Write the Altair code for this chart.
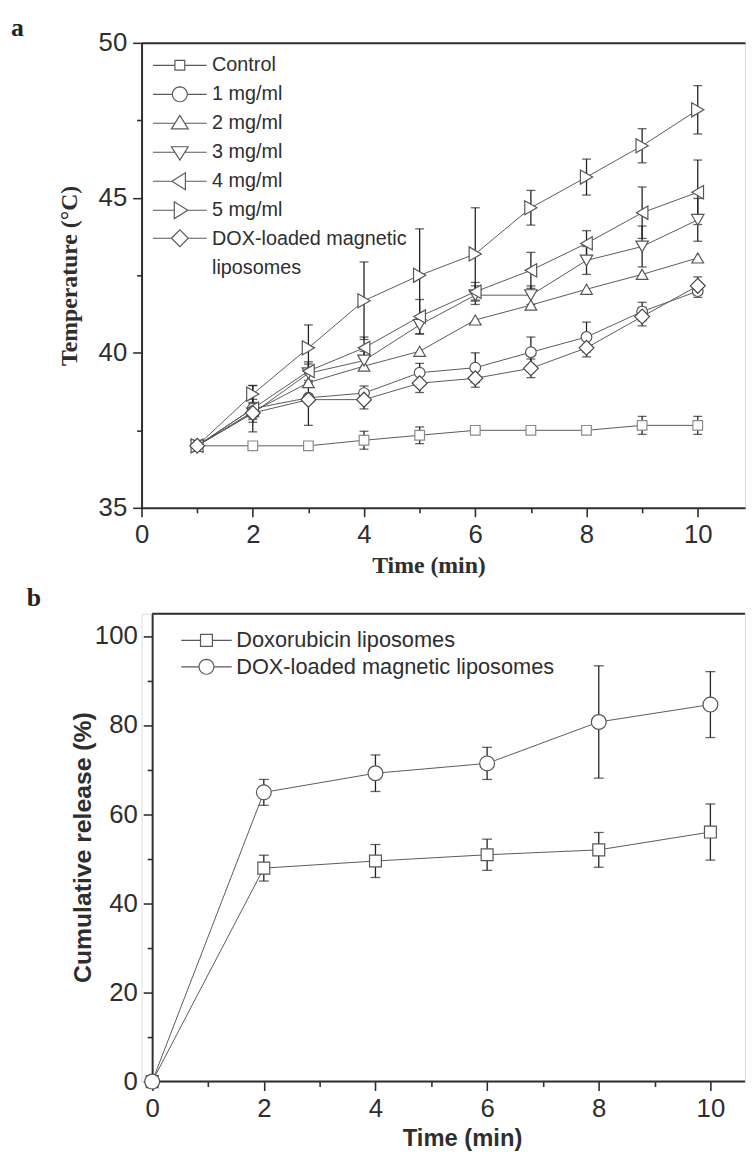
import math
import altair as alt
import pandas as pd

# ---------------- Panel a: temperature vs time ----------------
time_a = [1, 2, 3, 4, 5, 6, 7, 8, 9, 10]
series_a = ["Control", "1 mg/ml", "2 mg/ml", "3 mg/ml", "4 mg/ml", "5 mg/ml",
            "DOX-loaded magnetic liposomes"]
temp_control = [37.0, 37.0, 37.0, 37.18, 37.34, 37.5, 37.5, 37.5, 37.66, 37.66]
err_control = [0, 0, 0, 0.29, 0.27, 0, 0, 0, 0.29, 0.29]
temp_1mg = [37.0, 38.2, 38.55, 38.7, 39.36, 39.52, 40.02, 40.51, 41.33, 41.99]
err_1mg = [0, 0.75, 0, 0.23, 0.3, 0.48, 0.49, 0.48, 0.3, 0.2]
temp_2mg = [37.0, 38.1, 39.04, 39.57, 40.05, 41.06, 41.54, 42.05, 42.53, 43.06]
err_2mg = [0, 0, 0, 0, 0, 0, 0, 0, 0, 0]
temp_3mg = [37.0, 38.05, 39.34, 39.75, 40.9, 41.86, 41.86, 42.98, 43.43, 44.29]
err_3mg = [0, 0.2, 0.3, 0.3, 0.3, 0.3, 0.3, 0.45, 0.66, 0.69]
temp_4mg = [37.0, 38.2, 39.41, 40.16, 41.17, 41.97, 42.66, 43.53, 44.52, 45.18]
err_4mg = [0, 0.3, 0.3, 0.35, 0.55, 0.3, 0.58, 0.41, 0.83, 1.04]
temp_5mg = [37.0, 38.67, 40.16, 41.68, 42.5, 43.19, 44.68, 45.67, 46.68, 47.84]
err_5mg = [0, 0.27, 0.74, 1.25, 1.5, 1.49, 0.56, 0.58, 0.55, 0.78]
temp_dox = [37.0, 38.06, 38.49, 38.49, 39.02, 39.18, 39.5, 40.16, 41.17, 42.16]
err_dox = [0, 0.3, 0.83, 0.3, 0.3, 0.29, 0.3, 0.29, 0.3, 0.29]

# the last legend label wraps onto two lines in the figure
legend_a_lines = ["DOX-loaded magnetic", "\u00a0liposomes"]

ticks_a_x = [0, 2, 4, 6, 8, 10]
minor_a_x = [1, 3, 5, 7, 9]
ticks_a_y = [35, 40, 45, 50]
minor_a_y = [37.5, 42.5, 47.5]

# ---------------- Panel b: cumulative release ----------------
time_b = [0, 2, 4, 6, 8, 10]
series_b = ["Doxorubicin liposomes", "DOX-loaded magnetic liposomes"]
rel_lipo = [0, 47.9, 49.5, 50.9, 52.0, 56.0]
err_lipo = [0, 2.9, 3.7, 3.5, 3.9, 6.3]
rel_mag = [0, 64.9, 69.2, 71.4, 80.7, 84.6]
err_mag = [0, 2.9, 4.1, 3.6, 12.6, 7.4]

ticks_b_x = [0, 2, 4, 6, 8, 10]
minor_b_x = [1, 3, 5, 7, 9]
ticks_b_y = [0, 20, 40, 60, 80, 100]
minor_b_y = [10, 30, 50, 70, 90]


def long_df(times, names, values, errors):
    rows = []
    for name, vals, errs in zip(names, values, errors):
        for t, v, e in zip(times, vals, errs):
            rows.append({"series": name, "time": t, "val": v, "err": e,
                         "lo": v - e, "hi": v + e})
    return pd.DataFrame(rows)


df_a = long_df(time_a, series_a,
               [temp_control, temp_1mg, temp_2mg, temp_3mg, temp_4mg, temp_5mg, temp_dox],
               [err_control, err_1mg, err_2mg, err_3mg, err_4mg, err_5mg, err_dox])
df_b = long_df(time_b, series_b, [rel_lipo, rel_mag], [err_lipo, err_mag])

# ---------------- styles ----------------
SANS = "Liberation Sans"
SERIF = "Liberation Serif"
DARK = "#2e2e2e"
LINE = "#5a5a5a"
ERR = "#222222"

shapes_a = ["square", "circle", "triangle-up", "triangle-down", "triangle-left",
            "triangle-right", "diamond"]
sizes_a = [95, 225, 290, 290, 290, 290, 310]
strokes_a = ["#8a8a8a", "#555555", "#555555", "#555555", "#555555", "#555555", "#444444"]
shapes_b = ["square", "circle"]
sizes_b = [144, 225]


def f3(v):
    return f"{v:.3f}"


def poly(pts):
    return "M" + "L".join(f"{f3(x)},{f3(y)}" for x, y in pts) + "Z"


def circle_path(r, cy=0.0, n=28):
    return poly([(r * math.cos(2 * math.pi * k / n), cy + r * math.sin(2 * math.pi * k / n))
                 for k in range(n)])


def stub(a, b, cy, L):
    return f"M{f3(-L)},{f3(cy)}L{f3(-a)},{f3(cy)}M{f3(b)},{f3(cy)}L{f3(L)},{f3(cy)}"


def legend_symbol(kind, cy, L):
    """Legend glyph: line stub with the marker shape in its middle (units of sqrt(size)/2)."""
    if kind == "square":
        h = 0.62
        return stub(h, h, cy, L) + poly([(-h, cy - h), (h, cy - h), (h, cy + h), (-h, cy + h)])
    if kind == "square-b":
        h = 0.75
        return stub(h, h, cy, L) + poly([(-h, cy - h), (h, cy - h), (h, cy + h), (-h, cy + h)])
    if kind == "circle":
        return stub(0.94, 0.94, cy, L) + circle_path(0.94, cy)
    if kind == "triangle-up":
        return stub(0.62, 0.62, cy, L) + poly([(-1.06, cy + 0.7), (0, cy - 1.0), (1.06, cy + 0.7)])
    if kind == "triangle-down":
        return stub(0.62, 0.62, cy, L) + poly([(-1.06, cy - 0.7), (1.06, cy - 0.7), (0, cy + 1.0)])
    if kind == "triangle-left":
        return stub(1.0, 0.7, cy, L) + poly([(-1.0, cy), (0.7, cy - 1.06), (0.7, cy + 1.06)])
    if kind == "triangle-right":
        return stub(0.7, 1.0, cy, L) + poly([(1.0, cy), (-0.7, cy - 1.06), (-0.7, cy + 1.06)])
    # diamond
    return stub(1.06, 1.06, cy, L) + poly([(-1.06, cy), (0, cy - 1.06), (1.06, cy), (0, cy + 1.06)])


AX = dict(domainColor=DARK, domainWidth=2, tickColor=DARK, tickWidth=1.6,
          labelColor=DARK, labelFont=SANS, labelFontSize=26, grid=False,
          labelFlush=False, labelOverlap=False)
MINOR = dict(labels=False, domain=False, tickSize=5, tickColor=DARK, tickWidth=1.6,
             grid=False, title=None)

# ================= Panel a =================
XA = alt.Scale(domain=[0, 10.85], nice=False, zero=False)
YA = alt.Scale(domain=[35, 50], nice=False, zero=False)
base_a = alt.Chart(df_a)

x_axis_a = alt.Axis(
    values=ticks_a_x, format="d", orient="bottom", tickSize=9, labelPadding=5,
    title="Time (min)", titleFont=SERIF, titleFontSize=24, titleFontWeight="bold",
    titleColor=DARK, titleX=290, titleY=46, titleBaseline="top", titleAlign="center", **AX)
y_axis_a = alt.Axis(
    values=ticks_a_y, format="d", orient="left", tickSize=9, labelPadding=6,
    title="Temperature (°C)", titleFont=SERIF, titleFontSize=24, titleFontWeight="bold",
    titleColor=DARK, titleAngle=270, titleX=-73, titleY=235, titleBaseline="middle",
    titleAlign="center", **AX)

ROW_A = 29.3
line_layers_a = []
for i, name in enumerate(series_a):
    last = i == len(series_a) - 1
    leg_kw = dict(
        title=None, orient="none", legendX=28.7,
        legendY=(18.9 if last else 12.7) + i * ROW_A, padding=0,
        symbolType=legend_symbol(shapes_a[i], -0.9 if last else 0.0, 3.4),
        symbolSize=256, symbolStrokeWidth=1.2, symbolFillColor="white",
        labelFont=SANS, labelFontSize=20, labelColor=DARK,
        labelBaseline="alphabetic" if last else "middle",
        labelOffset=22.6, labelLimit=500,
    )
    if last:
        leg_kw["labelExpr"] = f"['{legend_a_lines[0]}', '{legend_a_lines[1]}']"
    line_layers_a.append(
        base_a.transform_filter(alt.datum.series == name).mark_line(strokeWidth=1).encode(
            x=alt.X("time:Q", scale=XA, axis=x_axis_a if i == 0 else None),
            y=alt.Y("val:Q", scale=YA, axis=y_axis_a if i == 0 else None),
            color=alt.Color("series:N", scale=alt.Scale(domain=[name], range=[LINE]),
                            legend=alt.Legend(**leg_kw)),
        )
    )

points_a = base_a.mark_point(fill="white", fillOpacity=1, opacity=1, strokeWidth=1.2).encode(
    x=alt.X("time:Q", scale=XA, axis=alt.Axis(values=minor_a_x, orient="bottom", **MINOR)),
    y=alt.Y("val:Q", scale=YA, axis=alt.Axis(values=minor_a_y, orient="left", **MINOR)),
    shape=alt.Shape("series:N", scale=alt.Scale(domain=series_a, range=shapes_a), legend=None),
    size=alt.Size("series:N", scale=alt.Scale(domain=series_a, range=sizes_a), legend=None),
    stroke=alt.Stroke("series:N", scale=alt.Scale(domain=series_a, range=strokes_a), legend=None),
)

err_rule_a = base_a.transform_filter("datum.err > 0").mark_rule(color=ERR, strokeWidth=1.3).encode(
    x=alt.X("time:Q", scale=XA, axis=alt.Axis(orient="top", ticks=False, labels=False,
                                              domain=True, domainColor=DARK, domainWidth=2,
                                              grid=False, title=None)),
    y=alt.Y("lo:Q", scale=YA, axis=None),
    y2="hi:Q",
)

err_cap_a = base_a.transform_filter("datum.err > 0").transform_fold(
    ["lo", "hi"], as_=["end", "yv"]
).mark_tick(orient="horizontal", size=9, thickness=1.3, color=ERR).encode(
    x=alt.X("time:Q", scale=XA, axis=None),
    y=alt.Y("yv:Q", scale=YA, axis=None),
)

panel_a = alt.layer(*line_layers_a, err_rule_a, err_cap_a, points_a).resolve_axis(
    x="independent", y="independent"
).resolve_scale(color="independent").properties(
    width=610, height=470,
    title=alt.TitleParams("a", anchor="start", frame="group", dx=-132, offset=-32,
                          font=SERIF, fontSize=26, fontWeight="bold", color="#222222",
                          baseline="alphabetic"),
)

# ================= Panel b =================
XB_MAX = 10.62
XB = alt.Scale(domain=[-0.19, XB_MAX], nice=False, zero=False)
YB = alt.Scale(domain=[0, 105], nice=False, zero=False)
base_b = alt.Chart(df_b)

x_axis_b = alt.Axis(
    values=ticks_b_x, format="d", orient="bottom", tickSize=9, labelPadding=5,
    domain=False, title="Time (min)", titleFont=SANS, titleFontSize=24,
    titleFontWeight="bold", titleColor=DARK, titleX=324, titleY=46,
    titleBaseline="top", titleAlign="center", **AX)
y_axis_b = alt.Axis(
    values=ticks_b_y, format="d", orient="left", tickSize=9, labelPadding=6,
    offset=-10.7, title="Cumulative release (%)", titleFont=SANS, titleFontSize=25,
    titleFontWeight="bold", titleColor=DARK, titleAngle=270, titleX=-70, titleY=236,
    titleBaseline="middle", titleAlign="center", **AX)

ROW_B = 26.7
legend_kinds_b = ["square-b", "circle"]
line_layers_b = []
for i, name in enumerate(series_b):
    leg_kw = dict(
        title=None, orient="none", legendX=54.6, legendY=16 + i * ROW_B, padding=0,
        symbolType=legend_symbol(legend_kinds_b[i], 0.0, 3.19),
        symbolSize=256, symbolStrokeWidth=1.2, symbolFillColor="white",
        labelFont=SANS, labelFontSize=22, labelColor=DARK, labelBaseline="middle",
        labelOffset=19.1, labelLimit=500,
    )
    line_layers_b.append(
        base_b.transform_filter(alt.datum.series == name).mark_line(strokeWidth=1).encode(
            x=alt.X("time:Q", scale=XB, axis=x_axis_b if i == 0 else None),
            y=alt.Y("val:Q", scale=YB, axis=y_axis_b if i == 0 else None),
            color=alt.Color("series:N", scale=alt.Scale(domain=[name], range=[LINE]),
                            legend=alt.Legend(**leg_kw)),
        )
    )

err_rule_b = base_b.transform_filter("datum.err > 0").mark_rule(color=ERR, strokeWidth=1.3).encode(
    x=alt.X("time:Q", scale=XB, axis=alt.Axis(values=minor_b_x, orient="bottom", **MINOR)),
    y=alt.Y("lo:Q", scale=YB, axis=alt.Axis(values=minor_b_y, orient="left", offset=-10.7, **MINOR)),
    y2="hi:Q",
)

err_cap_b = base_b.transform_filter("datum.err > 0").transform_fold(
    ["lo", "hi"], as_=["end", "yv"]
).mark_tick(orient="horizontal", size=10, thickness=1.3, color=ERR).encode(
    x=alt.X("time:Q", scale=XB, axis=None),
    y=alt.Y("yv:Q", scale=YB, axis=None),
)

points_b = base_b.mark_point(fill="white", fillOpacity=1, opacity=1, strokeWidth=1.2,
                             stroke="#555555").encode(
    x=alt.X("time:Q", scale=XB, axis=None),
    y=alt.Y("val:Q", scale=YB, axis=None),
    shape=alt.Shape("series:N", scale=alt.Scale(domain=series_b, range=shapes_b), legend=None),
    size=alt.Size("series:N", scale=alt.Scale(domain=series_b, range=sizes_b), legend=None),
)

frame_b = alt.Chart(pd.DataFrame({"x0": [0, 0], "x1": [XB_MAX, XB_MAX], "yv": [0, 105]})).mark_rule(
    color=DARK, strokeWidth=2
).encode(
    x=alt.X("x0:Q", scale=XB, axis=None),
    x2="x1:Q",
    y=alt.Y("yv:Q", scale=YB, axis=None),
)

panel_b = alt.layer(frame_b, *line_layers_b, err_rule_b, err_cap_b, points_b).resolve_axis(
    x="independent", y="independent"
).resolve_scale(color="independent").properties(
    width=610, height=473,
    title=alt.TitleParams("b", anchor="start", frame="group", dx=-116, offset=-19,
                          font=SERIF, fontSize=26, fontWeight="bold", color="#222222",
                          baseline="alphabetic"),
)

chart = alt.vconcat(panel_a, panel_b, spacing=6).resolve_scale(
    color="independent", shape="independent", size="independent", stroke="independent"
).properties(
    padding={"top": 0, "left": 2, "right": 0, "bottom": 0},
    background="white",
).configure_view(stroke=None).configure(
    style={"guide-label": {"lineHeight": 29}}
)

chart.save("out.html", embed_options={"renderer": "svg", "actions": False})
